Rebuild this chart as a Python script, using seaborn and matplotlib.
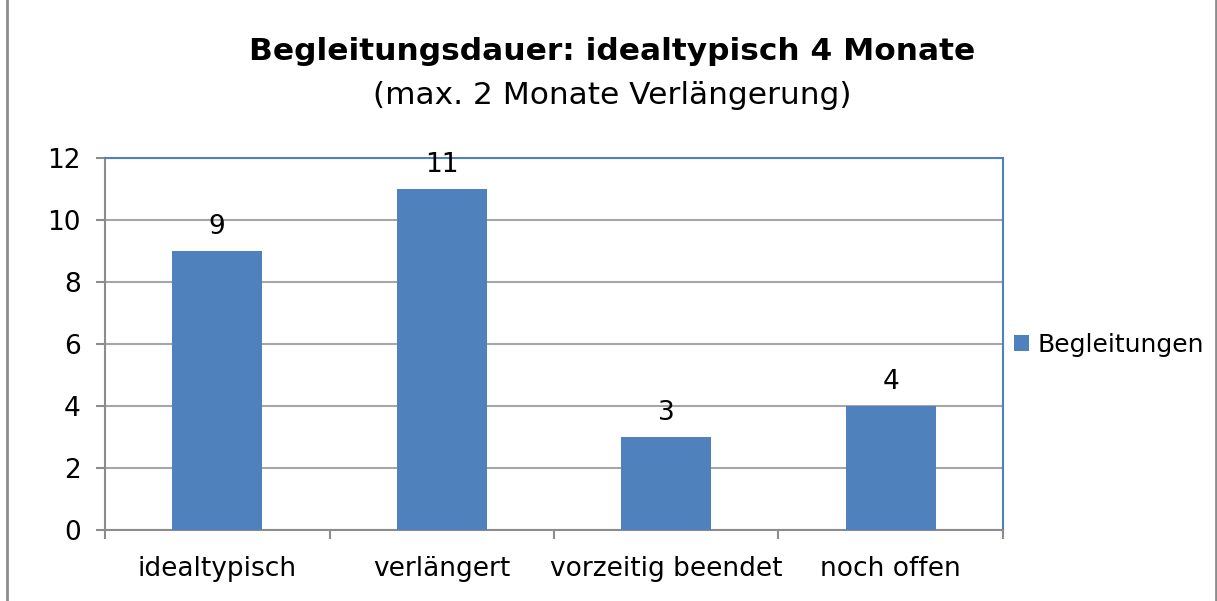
import matplotlib.pyplot as plt
import pandas as pd
import seaborn as sns
from matplotlib.lines import Line2D
from matplotlib.patches import Patch

# Data
categories = ['idealtypisch', 'verlängert', 'vorzeitig beendet', 'noch offen']
values = [9, 11, 3, 4]
series_name = 'Begleitungen'

df = pd.DataFrame({'Kategorie': categories, 'Anzahl': values})

sns.set_style('white')
plt.rcParams['font.family'] = ['DejaVu Sans']
plt.rcParams['text.color'] = 'black'
plt.rcParams['xtick.color'] = 'black'
plt.rcParams['ytick.color'] = 'black'

bar_color = '#4f81bd'
grid_color = '#a6a6a6'
axis_gray = '#8c8c8c'

fig = plt.figure(figsize=(12.17, 6.01), dpi=100)
ax = fig.add_axes([105 / 1217, 71 / 601, 898 / 1217, 372 / 601])

sns.barplot(data=df, x='Kategorie', y='Anzahl', color=bar_color, width=0.4,
            saturation=1, linewidth=0, ax=ax, zorder=3)

ax.set_ylim(0, 12)
ax.set_xlim(-0.5, len(categories) - 0.5)
ax.set_yticks(range(0, 13, 2))
ax.yaxis.grid(True, color=grid_color, linewidth=1.5, zorder=0)
ax.set_axisbelow(True)
ax.set_xlabel('')
ax.set_ylabel('')

# value labels
for i, v in enumerate(values):
    ax.annotate(str(v), (i, v), xytext=(0, 8), textcoords='offset points',
                ha='center', va='bottom', fontsize=19)

# spines
for s in ['top', 'right']:
    ax.spines[s].set_color(bar_color)
    ax.spines[s].set_linewidth(1.5)
for s in ['left', 'bottom']:
    ax.spines[s].set_color(axis_gray)
    ax.spines[s].set_linewidth(1.5)

ax.tick_params(axis='y', length=6.5, width=1.5, color=axis_gray, labelsize=19,
               pad=11, left=True)
ax.tick_params(axis='x', length=0, labelsize=19, pad=19)

# x tick marks at category boundaries
ax.set_xticks([i - 0.5 for i in range(len(categories) + 1)], minor=True)
ax.tick_params(axis='x', which='minor', length=6.5, width=1.5, color=axis_gray, bottom=True)

# legend
handle = Patch(facecolor=bar_color, edgecolor='none', label=series_name)
fig.legend(handles=[handle], loc='center left', bbox_to_anchor=(1014 / 1217, 256 / 601),
           frameon=False, fontsize=18, handlelength=0.6, handleheight=0.6,
           handletextpad=0.35, borderpad=0, borderaxespad=0)

# titles
fig.text(0.503, 1 - 52 / 601, 'Begleitungsdauer: idealtypisch 4 Monate', ha='center',
         va='center', fontsize=22.5, fontweight='bold')
fig.text(0.503, 1 - 95 / 601, '(max. 2 Monate Verlängerung)', ha='center',
         va='center', fontsize=22.5)

# outer border (left and right edges)
for xb in (7 / 1217, 1215.5 / 1217):
    fig.add_artist(Line2D([xb, xb], [0, 1], transform=fig.transFigure,
                          color=axis_gray, linewidth=2))

fig.savefig('out.png', dpi=100)
